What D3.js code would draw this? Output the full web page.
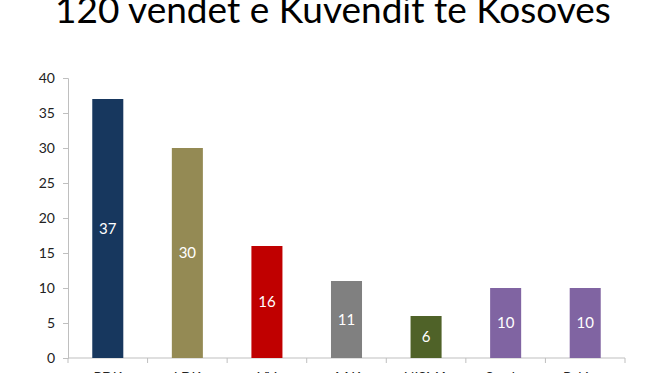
<!DOCTYPE html>
<html lang="sq">
<head>
<meta charset="utf-8">
<title>120 vendet e Kuvendit</title>
<script src="https://d3js.org/d3.v7.min.js"></script>
<style>
  body { margin: 0; background: #fff; }
  text { font-family: Lato, "Open Sans", sans-serif; }
</style>
</head>
<body>
<script>
// party names (bottom labels are cut off in the picture, best guesses)
var parties = ["PDK", "LDK", "VV", "AAK", "NISMA", "Srpska", "Pakicat"];
var seats = [37, 30, 16, 11, 6, 10, 10];
var colors = ["#17375e", "#948a54", "#c00000", "#808080", "#4f6228", "#8064a2", "#8064a2"];
var yTicks = [0, 5, 10, 15, 20, 25, 30, 35, 40];

var w = 656, h = 373;
var mLeft = 68, mRight = 625, mTop = 78, mBottom = 358;

var svg = d3.select("body").append("svg")
  .attr("width", w)
  .attr("height", h);

svg.append("text")
  .attr("x", 333)
  .attr("y", 23)
  .attr("text-anchor", "middle")
  .attr("font-size", "37px")
  .attr("fill", "#000")
  .text("120 vendet e Kuvendit te Kosoves");

var x = d3.scaleBand().domain(parties).range([mLeft, mRight]).padding(0);
var y = d3.scaleLinear().domain([0, 40]).range([mBottom, mTop]);

var barW = x.bandwidth() * 0.39;

// y axis
var yAxis = svg.append("g")
  .attr("transform", "translate(" + mLeft + ",0)")
  .call(d3.axisLeft(y).tickValues(yTicks).tickSize(5).tickPadding(8));
yAxis.select(".domain").attr("stroke", "#bfbfbf");
yAxis.selectAll(".tick line").attr("stroke", "#bfbfbf");
yAxis.selectAll(".tick text")
  .attr("font-family", "Lato, sans-serif")
  .attr("font-size", "14px")
  .attr("fill", "#222");

// x axis, ticks at the category boundaries
var xg = svg.append("g");
xg.append("line")
  .attr("x1", mLeft).attr("x2", mRight)
  .attr("y1", mBottom).attr("y2", mBottom)
  .attr("stroke", "#bfbfbf");
var bounds = parties.map(function(d) { return x(d); }).concat([mRight]);
xg.selectAll(".xt")
  .data(bounds)
  .enter().append("line")
  .attr("x1", function(d) { return d; })
  .attr("x2", function(d) { return d; })
  .attr("y1", mBottom)
  .attr("y2", mBottom + 5)
  .attr("stroke", "#bfbfbf");
xg.selectAll(".xl")
  .data(parties)
  .enter().append("text")
  .attr("x", function(d) { return x(d) + x.bandwidth() / 2; })
  .attr("y", 382)
  .attr("text-anchor", "middle")
  .attr("font-size", "14px")
  .attr("fill", "#222")
  .text(function(d) { return d; });

// bars
svg.selectAll("rect")
  .data(seats)
  .enter().append("rect")
  .attr("x", function(d, i) { return x(parties[i]) + (x.bandwidth() - barW) / 2; })
  .attr("y", function(d) { return y(d); })
  .attr("width", barW)
  .attr("height", function(d) { return mBottom - y(d); })
  .attr("fill", function(d, i) { return colors[i]; });

// value labels in the middle of the bars
svg.selectAll(".val")
  .data(seats)
  .enter().append("text")
  .attr("x", function(d, i) { return x(parties[i]) + x.bandwidth() / 2; })
  .attr("y", function(d) { return (y(d) + mBottom) / 2; })
  .attr("dy", "0.35em")
  .attr("text-anchor", "middle")
  .attr("font-size", "15px")
  .attr("fill", "#fff")
  .text(function(d) { return d; });
</script>
</body>
</html>
